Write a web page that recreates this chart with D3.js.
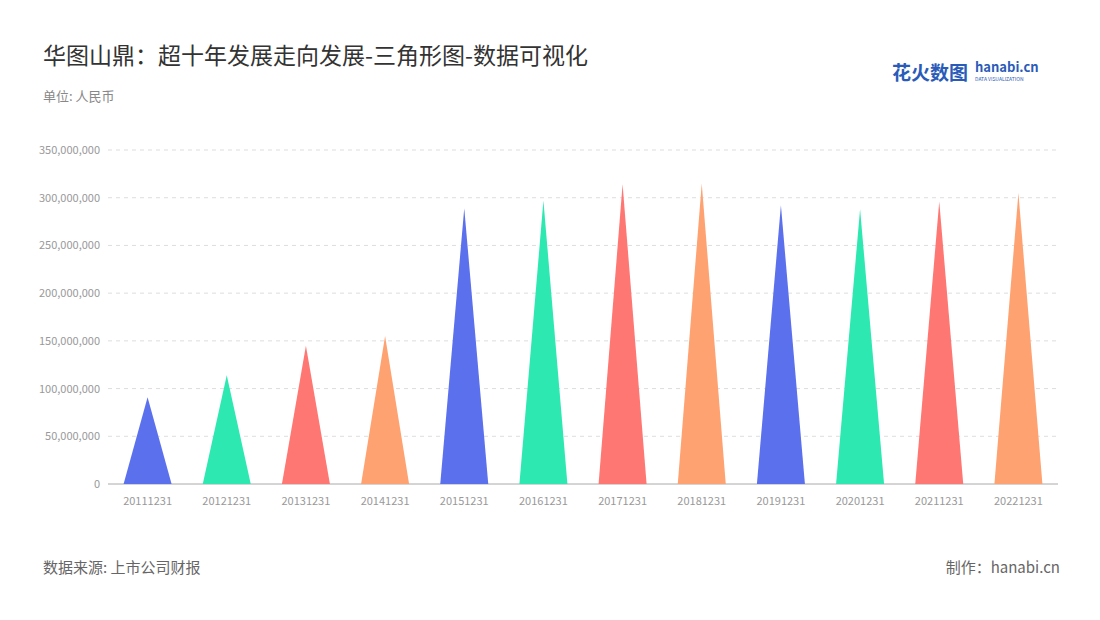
<!DOCTYPE html>
<html><head><meta charset="utf-8">
<script src="https://cdn.jsdelivr.net/npm/d3@7/dist/d3.min.js"></script>
<style>body{margin:0;background:#fff;font-family:"Noto Sans CJK SC","Noto Sans",sans-serif}</style>
</head><body><svg id="c" width="1100" height="620"></svg>
<script>
const years = ['20111231','20121231','20131231','20141231','20151231','20161231','20171231','20181231','20191231','20201231','20211231','20221231'];
const values = [91e6,114e6,145e6,155e6,289e6,297e6,314e6,315e6,292e6,288e6,296e6,305e6];
const colors = ['#5b70ec','#2ee8b2','#ff7772','#ffa271'];
const yTicks = [0,50e6,100e6,150e6,200e6,250e6,300e6,350e6];

const svg = d3.select('#c');
const m = {l:108, r:1058, t:150, b:484};
const x = d3.scaleBand().domain(years).range([m.l, m.r]);
const y = d3.scaleLinear().domain([0, 350e6]).range([m.b, m.t]);

svg.append('text').attr('x',43).attr('y',64).attr('font-size',23).attr('fill','#333').text('华图山鼎：超十年发展走向发展-三角形图-数据可视化');
svg.append('text').attr('x',43).attr('y',101).attr('font-size',13).attr('fill','#888').text('单位: 人民币');
svg.append('text').attr('x',43).attr('y',573).attr('font-size',15).attr('fill','#666').text('数据来源: 上市公司财报');
svg.append('text').attr('x',1060).attr('y',573).attr('font-size',15).attr('fill','#666').attr('text-anchor','end').text('制作：hanabi.cn');
const logo = svg.append('g');
logo.append('text').attr('x',892).attr('y',80).attr('font-size',19).attr('font-weight','bold').attr('fill','#2a5bb8').text('花火数图');
logo.append('text').attr('x',975).attr('y',72).attr('font-size',13).attr('font-weight','bold').attr('fill','#2a5bb8').text('hanabi.cn');
logo.append('text').attr('x',975).attr('y',81).attr('font-size',5).attr('fill','#2a5bb8').text('DATA VISUALIZATION');

svg.append('g').selectAll('line').data(yTicks.slice(1)).join('line')
  .attr('x1',m.l).attr('x2',m.r).attr('y1',d=>y(d)).attr('y2',d=>y(d))
  .attr('stroke','#ddd').attr('stroke-dasharray','4,4');
svg.append('g').selectAll('text').data(yTicks).join('text')
  .attr('x',m.l-8).attr('y',d=>y(d)+4).attr('text-anchor','end').attr('font-size',11).attr('fill','#999')
  .text(d=>d3.format(',')(d));
svg.append('line').attr('x1',m.l).attr('x2',m.r).attr('y1',m.b).attr('y2',m.b).attr('stroke','#aaa');
svg.append('g').selectAll('text').data(years).join('text')
  .attr('x',d=>x(d)+x.bandwidth()/2).attr('y',m.b+21).attr('text-anchor','middle').attr('font-size',11).attr('fill','#999').text(d=>d);

const hw = 24;
svg.append('g').selectAll('path').data(years).join('path')
  .attr('d',(d,i)=>{const c=x(d)+x.bandwidth()/2;return `M${c-hw},${y(0)}L${c},${y(values[i])}L${c+hw},${y(0)}Z`;})
  .attr('fill',(d,i)=>colors[i%4]);
</script></body></html>
